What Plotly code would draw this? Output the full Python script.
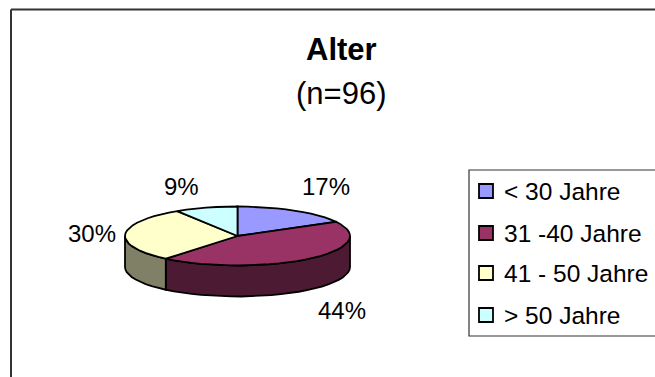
import numpy as np
import plotly.graph_objects as go

# Altersverteilung der Befragten
categories = ["< 30 Jahre", "31 -40 Jahre", "41 - 50 Jahre", "> 50 Jahre"]
values = [17, 44, 30, 9]
top_colors = ["#9999FF", "#993366", "#FFFFCC", "#CCFFFF"]
side_colors = ["#4D4D80", "#4D1A33", "#808066", "#668080"]
label_positions = [(326, 186), (342, 310), (92, 233), (181, 186)]

W, H = 655, 377
CX, CY, RX, RY, DEPTH = 237.5, 236.0, 112.5, 29.5, 31.0
FONT = "Liberation Sans, Arial, sans-serif"


def rim(a0, a1, drop=0.0):
    """Points along the ellipse, angles in degrees clockwise from the top."""
    n = max(2, int(abs(a1 - a0) / 5) + 1)
    t = np.radians(np.linspace(a0, a1, n))
    return CX + RX * np.sin(t), CY - RY * np.cos(t) + drop


fig = go.Figure()


def polygon(x, y, color):
    fig.add_trace(go.Scatter(
        x=x, y=y, mode="lines", fill="toself", fillcolor=color,
        line=dict(color="black", width=1.8), hoverinfo="skip", showlegend=False,
    ))


edges = np.concatenate([[0], np.cumsum(values)]) * 3.6

# Front wall of the disc: only the part between 90 and 270 degrees faces the viewer
for i in range(len(values)):
    a0, a1 = max(edges[i], 90), min(edges[i + 1], 270)
    if a1 > a0:
        x0, y0 = rim(a0, a1)
        x1, y1 = rim(a1, a0, DEPTH)
        polygon(np.r_[x0, x1, x0[0]], np.r_[y0, y1, y0[0]], side_colors[i])

# Top face
for i in range(len(values)):
    x0, y0 = rim(edges[i], edges[i + 1])
    polygon(np.r_[CX, x0, CX], np.r_[CY, y0, CY], top_colors[i])

annotations = [
    dict(x=341, y=49, text="<b>Alter</b>", font=dict(size=31)),
    dict(x=341, y=93, text="(n=96)", font=dict(size=31)),
]
for v, (lx, ly) in zip(values, label_positions):
    annotations.append(dict(x=lx, y=ly, text=f"{v}%", font=dict(size=24)))

# Legend box with swatches and labels
legend_rows = [191, 233, 273, 315]
shapes = [
    dict(type="rect", x0=469, x1=660, y0=170, y1=336,
         line=dict(color="#333333", width=1.2), fillcolor="white", layer="below"),
    dict(type="line", x0=11, x1=11, y0=9.5, y1=377, line=dict(color="#333333", width=2), layer="below"),
    dict(type="line", x0=11, x1=655, y0=9.5, y1=9.5, line=dict(color="#333333", width=2), layer="below"),
]
for name, color, ry in zip(categories, top_colors, legend_rows):
    shapes.append(dict(type="rect", x0=479, x1=493, y0=ry - 7, y1=ry + 7,
                       line=dict(color="black", width=1.8), fillcolor=color, layer="above"))
    annotations.append(dict(x=502, y=ry, text=name, xanchor="left", font=dict(size=24.5)))

for a in annotations:
    a.update(showarrow=False, xref="x", yref="y", yanchor="middle")
    a.setdefault("xanchor", "center")
    a["font"].update(family=FONT, color="black")

fig.update_layout(
    width=W, height=H, margin=dict(l=0, r=0, t=0, b=0),
    paper_bgcolor="white", plot_bgcolor="white",
    xaxis=dict(range=[0, W], visible=False, fixedrange=True),
    yaxis=dict(range=[H, 0], visible=False, fixedrange=True),
    shapes=shapes, annotations=annotations,
)
fig.write_html("out.html", config={"displayModeBar": False})
